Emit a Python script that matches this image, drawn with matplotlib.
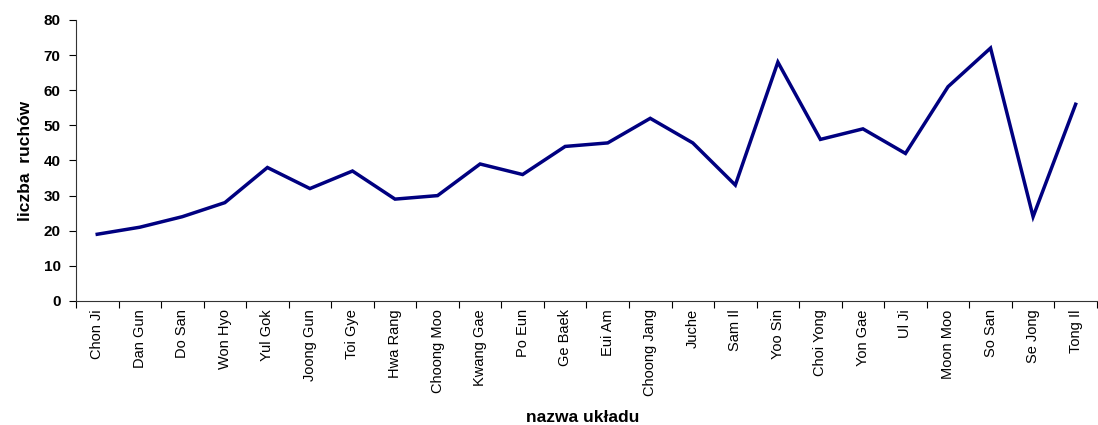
import numpy as np
import matplotlib.pyplot as plt

plt.rcParams['font.family'] = ['Liberation Sans', 'DejaVu Sans']

uklady = ['Chon Ji', 'Dan Gun', 'Do San', 'Won Hyo', 'Yul Gok', 'Joong Gun', 'Toi Gye',
          'Hwa Rang', 'Choong Moo', 'Kwang Gae', 'Po Eun', 'Ge Baek', 'Eui Am',
          'Choong Jang', 'Juche', 'Sam Il', 'Yoo Sin', 'Choi Yong', 'Yon Gae', 'Ul Ji',
          'Moon Moo', 'So San', 'Se Jong', 'Tong Il']
ruchy = [19, 21, 24, 28, 38, 32, 37, 29, 30, 39, 36, 44, 45, 52, 45, 33, 68, 46, 49, 42,
         61, 72, 24, 56]

fig = plt.figure(figsize=(10.98, 4.25), dpi=100)
ax = fig.add_axes([0.0692, 0.2918, 0.9298, 0.6612])

x = np.arange(len(uklady))
ax.plot(x, ruchy, color='#000080', linewidth=2.5, solid_joinstyle='miter')

ax.set_xlim(-0.5, len(uklady) - 0.5)
ax.set_ylim(0, 80)
ax.set_yticks(range(0, 81, 10))
ax.tick_params(axis='y', labelsize=11, length=5, width=0.8, pad=6)
for t in ax.get_yticklabels():
    t.set_fontweight('bold')

# tick marks between categories, labels at category centres
ax.set_xticks(np.arange(len(uklady) + 1) - 0.5)
ax.set_xticklabels([])
ax.tick_params(axis='x', which='major', length=5, width=0.8)
ax.set_xticks(x, minor=True)
ax.set_xticklabels(uklady, minor=True, rotation=90, fontsize=10.5)
ax.tick_params(axis='x', which='minor', length=0, pad=6)

for s in ['top', 'right']:
    ax.spines[s].set_visible(False)
for s in ['left', 'bottom']:
    ax.spines[s].set_linewidth(0.8)
    ax.spines[s].set_color('#333333')

ax.set_ylabel('liczba  ruchów', fontsize=12.5, fontweight='bold', labelpad=8)
fig.text(0.531, 0.008, 'nazwa układu', ha='center', fontsize=12.5, fontweight='bold')

fig.savefig('out.png', dpi=100)
